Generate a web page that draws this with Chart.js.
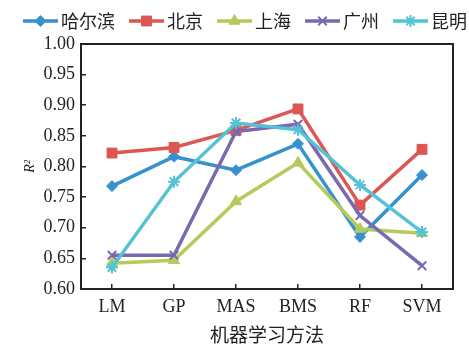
<!DOCTYPE html>
<html>
<head>
<meta charset="utf-8">
<script src="https://cdn.jsdelivr.net/npm/chart.js@4"></script>
<style>
  html, body { margin: 0; padding: 0; background: #fff; }
  #wrap { width: 469px; height: 347px; }
</style>
</head>
<body>
<div id="wrap"><canvas id="c"></canvas></div>
<script>
// Machine-learning method categories (x axis)
const categories = ['LM', 'GP', 'MAS', 'BMS', 'RF', 'SVM'];
// City names (series)
const cityNames = ['哈尔滨', '北京', '上海', '广州', '昆明'];
// R² of each method, per city
const harbin    = [0.768, 0.816, 0.794, 0.837, 0.685, 0.786];
const beijing   = [0.822, 0.831, 0.859, 0.894, 0.737, 0.828];
const shanghai  = [0.642, 0.647, 0.743, 0.806, 0.698, 0.691];
const guangzhou = [0.655, 0.655, 0.857, 0.869, 0.720, 0.638];
const kunming   = [0.635, 0.775, 0.871, 0.860, 0.770, 0.693];
// y axis tick values
const yTicks = [0.60, 0.65, 0.70, 0.75, 0.80, 0.85, 0.90, 0.95, 1.00];

const seriesValues = [harbin, beijing, shanghai, guangzhou, kunming];
const seriesColors = ['#3691cf', '#dc5752', '#b5ca5b', '#7b69ad', '#55c2d6'];
const seriesMarkers = [
  { pointStyle: 'rectRot',  radius: 5.5, borderWidth: 1 },
  { pointStyle: 'rect',     radius: 7,   borderWidth: 1 },
  { pointStyle: 'triangle', radius: 6.5, borderWidth: 1 },
  { pointStyle: 'crossRot', radius: 6,   borderWidth: 2 },
  { pointStyle: 'star',     radius: 6,   borderWidth: 2 }
];

const ink = '#222';
const serif = 'Liberation Serif';
const cjk = 'Noto Sans CJK SC';

// Legend symbols: a short line with the series marker in its middle
function makeLegendIcon(color, marker) {
  const cv = document.createElement('canvas');
  cv.width = 47; cv.height = 18;
  const g = cv.getContext('2d');
  g.strokeStyle = color;
  g.fillStyle = color;
  g.lineWidth = 3.5;
  g.beginPath();
  g.moveTo(12, 9);
  g.lineTo(47, 9);
  g.stroke();
  g.lineWidth = marker.borderWidth;
  Chart.helpers.drawPoint(g, {
    pointStyle: marker.pointStyle,
    radius: marker.radius,
    borderWidth: marker.borderWidth,
    rotation: 0
  }, 29.5, 9);
  return cv;
}
const legendIcons = seriesColors.map((c, i) => makeLegendIcon(c, seriesMarkers[i]));

const datasets = cityNames.map((name, i) => ({
  label: name,
  data: seriesValues[i],
  borderColor: seriesColors[i],
  backgroundColor: seriesColors[i],
  borderWidth: 3.5,
  pointStyle: seriesMarkers[i].pointStyle,
  pointRadius: seriesMarkers[i].radius,
  pointHoverRadius: seriesMarkers[i].radius,
  pointBorderWidth: seriesMarkers[i].borderWidth,
  pointBackgroundColor: seriesColors[i],
  pointBorderColor: seriesColors[i],
  tension: 0,
  order: cityNames.length - i
}));

// nudge the legend row to the right
const legendShift = {
  id: 'legendShift',
  afterLayout(chart) {
    const lg = chart.legend;
    if (lg) { lg.left += 7.5; lg.right += 7.5; }
  }
};

new Chart(document.getElementById('c'), {
  type: 'line',
  data: { labels: categories, datasets },
  plugins: [legendShift],
  options: {
    responsive: true,
    maintainAspectRatio: false,
    animation: false,
    layout: { padding: { top: 4, left: 0, right: 0, bottom: 0 } },
    plugins: {
      tooltip: { enabled: false },
      legend: {
        position: 'top',
        labels: {
          usePointStyle: true,
          pointStyleWidth: 35,
          padding: 8,
          color: ink,
          font: { family: cjk, size: 18 },
          sort: (a, b) => a.datasetIndex - b.datasetIndex,
          generateLabels(chart) {
            const items = Chart.defaults.plugins.legend.labels.generateLabels(chart);
            items.forEach(it => { it.pointStyle = legendIcons[it.datasetIndex]; });
            return items;
          }
        }
      }
    },
    scales: {
      x: {
        type: 'category',
        position: 'bottom',
        offset: true,
        grid: { display: true, drawOnChartArea: false, drawTicks: true, tickLength: -5, color: ink, lineWidth: 1.5 },
        border: { display: true, color: ink, width: 2 },
        ticks: { color: ink, font: { family: serif, size: 18 }, padding: 12, maxRotation: 0 },
        title: { display: true, text: '机器学习方法', color: ink, font: { family: cjk, size: 19 }, padding: { top: 0, bottom: 1 } },
        afterFit(s) { s.height = 58; }
      },
      y: {
        type: 'linear',
        position: 'left',
        min: 0.6,
        max: 1.0,
        afterBuildTicks(s) { s.ticks = yTicks.map(v => ({ value: v })); },
        grid: { display: true, drawOnChartArea: false, drawTicks: true, tickLength: -5, color: ink, lineWidth: 1.5 },
        border: { display: true, color: ink, width: 2 },
        ticks: { color: ink, font: { family: serif, size: 18 }, padding: 11, callback: v => Number(v).toFixed(2) },
        title: { display: true, text: 'R²', color: ink, font: { family: serif, size: 14, style: 'italic' }, padding: { top: 22, bottom: 0 } },
        afterFit(s) { s.width = 81; }
      },
      xTop: {
        type: 'category',
        position: 'top',
        labels: categories,
        grid: { display: false, drawTicks: false },
        border: { display: true, color: ink, width: 2 },
        ticks: { display: false },
        afterFit(s) { s.height = 4; }
      },
      yRight: {
        type: 'linear',
        position: 'right',
        min: 0.6,
        max: 1.0,
        grid: { display: false, drawTicks: false },
        border: { display: true, color: ink, width: 2 },
        ticks: { display: false },
        afterFit(s) { s.width = 16; }
      }
    }
  }
});
</script>
</body>
</html>
